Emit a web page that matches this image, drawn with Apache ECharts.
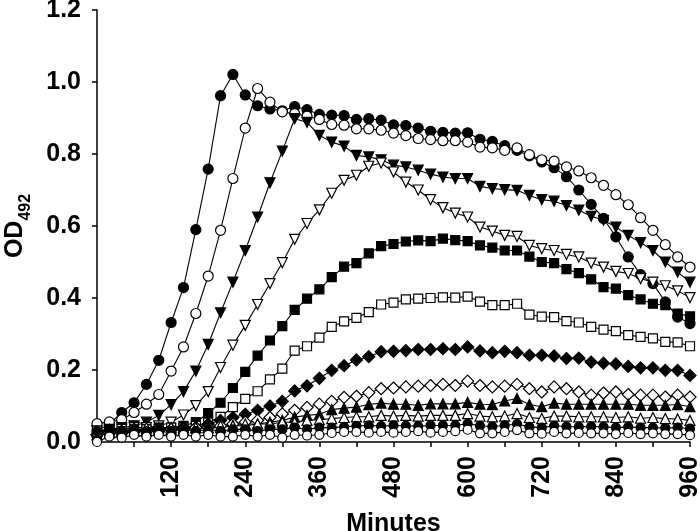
<!DOCTYPE html>
<html><head><meta charset="utf-8">
<script src="https://cdn.jsdelivr.net/npm/echarts@6/dist/echarts.min.js"></script>
<style>html,body{margin:0;padding:0;background:#fff}#c{width:700px;height:531px}</style>
</head><body><div id="c"></div>
<script>
// time points (minutes)
const minutes = [0,20,40,60,80,100,120,140,160,180,200,220,240,260,280,300,320,340,360,380,400,420,440,460,480,500,520,540,560,580,600,620,640,660,680,700,720,740,760,780,800,820,840,860,880,900,920,940,960];
const xTicks = [120,240,360,480,600,720,840,960];
const yTicks = [0.0,0.2,0.4,0.6,0.8,1.0,1.2];

const s1 = [0.03,0.05,0.082,0.109,0.16,0.227,0.332,0.429,0.59,0.758,0.962,1.021,0.964,0.934,0.925,0.92,0.932,0.923,0.91,0.908,0.907,0.896,0.898,0.894,0.881,0.879,0.872,0.863,0.86,0.858,0.859,0.841,0.835,0.823,0.81,0.795,0.778,0.762,0.737,0.7,0.66,0.621,0.57,0.514,0.465,0.44,0.389,0.347,0.329];
const s2 = [0.051,0.056,0.062,0.082,0.105,0.132,0.197,0.264,0.357,0.461,0.588,0.732,0.872,0.982,0.944,0.917,0.912,0.905,0.896,0.882,0.88,0.87,0.87,0.866,0.858,0.851,0.843,0.84,0.837,0.837,0.833,0.819,0.817,0.81,0.817,0.798,0.784,0.78,0.764,0.753,0.734,0.713,0.687,0.659,0.623,0.588,0.548,0.514,0.486];
const s3 = [0.03,0.035,0.04,0.045,0.055,0.074,0.104,0.14,0.197,0.271,0.359,0.444,0.532,0.625,0.72,0.808,0.898,0.888,0.852,0.833,0.822,0.796,0.792,0.784,0.769,0.764,0.755,0.744,0.736,0.732,0.732,0.71,0.704,0.701,0.699,0.685,0.673,0.669,0.657,0.644,0.627,0.616,0.597,0.574,0.554,0.532,0.5,0.472,0.444];
const s4 = [0.03,0.03,0.035,0.04,0.04,0.045,0.055,0.075,0.101,0.14,0.207,0.269,0.324,0.382,0.44,0.498,0.563,0.607,0.645,0.691,0.727,0.741,0.766,0.775,0.75,0.722,0.7,0.673,0.651,0.636,0.625,0.597,0.586,0.574,0.571,0.546,0.537,0.532,0.521,0.514,0.497,0.486,0.474,0.468,0.454,0.444,0.434,0.42,0.401];
const s5 = [0.025,0.03,0.03,0.035,0.035,0.04,0.04,0.045,0.055,0.08,0.109,0.15,0.195,0.24,0.282,0.322,0.367,0.398,0.424,0.458,0.487,0.497,0.524,0.544,0.55,0.557,0.56,0.558,0.565,0.561,0.558,0.546,0.54,0.532,0.532,0.515,0.5,0.497,0.48,0.469,0.452,0.43,0.426,0.408,0.396,0.384,0.38,0.357,0.349];
const s6 = [0.025,0.03,0.03,0.03,0.035,0.035,0.04,0.04,0.045,0.054,0.07,0.097,0.12,0.141,0.174,0.204,0.254,0.266,0.29,0.32,0.335,0.345,0.361,0.382,0.387,0.396,0.398,0.4,0.402,0.401,0.404,0.39,0.38,0.38,0.384,0.354,0.348,0.347,0.336,0.332,0.32,0.312,0.308,0.297,0.292,0.288,0.278,0.277,0.266];
const s7 = [0.02,0.025,0.025,0.03,0.03,0.035,0.035,0.04,0.04,0.05,0.06,0.068,0.077,0.088,0.1,0.113,0.142,0.156,0.177,0.199,0.212,0.228,0.237,0.251,0.252,0.254,0.257,0.257,0.259,0.257,0.264,0.253,0.248,0.252,0.248,0.241,0.241,0.239,0.232,0.233,0.222,0.219,0.217,0.21,0.206,0.206,0.199,0.199,0.185];
const s8 = [0.02,0.025,0.025,0.03,0.03,0.03,0.035,0.035,0.04,0.04,0.045,0.05,0.055,0.06,0.068,0.078,0.088,0.096,0.105,0.113,0.124,0.127,0.137,0.148,0.15,0.153,0.155,0.157,0.16,0.157,0.169,0.157,0.153,0.155,0.16,0.148,0.139,0.153,0.148,0.139,0.13,0.136,0.139,0.132,0.13,0.13,0.125,0.13,0.125];
const s9 = [0.02,0.025,0.03,0.03,0.03,0.035,0.035,0.035,0.04,0.04,0.04,0.045,0.045,0.05,0.055,0.06,0.069,0.074,0.077,0.09,0.094,0.097,0.104,0.108,0.105,0.105,0.102,0.106,0.106,0.106,0.11,0.105,0.104,0.114,0.121,0.104,0.098,0.108,0.105,0.105,0.105,0.105,0.105,0.105,0.102,0.102,0.102,0.104,0.098];
const s10 = [0.03,0.035,0.035,0.04,0.04,0.04,0.04,0.04,0.04,0.04,0.045,0.045,0.05,0.05,0.05,0.055,0.055,0.06,0.062,0.065,0.068,0.07,0.07,0.074,0.072,0.074,0.072,0.074,0.074,0.074,0.079,0.072,0.07,0.072,0.079,0.068,0.065,0.072,0.072,0.07,0.07,0.07,0.068,0.07,0.066,0.068,0.065,0.064,0.06];
const s11 = [0.03,0.035,0.03,0.035,0.03,0.035,0.03,0.035,0.03,0.035,0.03,0.035,0.035,0.03,0.035,0.035,0.04,0.035,0.04,0.04,0.042,0.045,0.046,0.044,0.046,0.045,0.044,0.046,0.046,0.046,0.051,0.045,0.043,0.046,0.05,0.042,0.04,0.045,0.043,0.042,0.043,0.042,0.04,0.042,0.04,0.04,0.039,0.04,0.037];
const s12 = [0.0,0.015,0.012,0.02,0.015,0.02,0.015,0.02,0.015,0.02,0.015,0.015,0.02,0.015,0.02,0.012,0.02,0.018,0.02,0.025,0.028,0.028,0.026,0.028,0.026,0.028,0.03,0.026,0.028,0.03,0.034,0.024,0.024,0.028,0.033,0.024,0.023,0.028,0.024,0.025,0.024,0.024,0.022,0.025,0.022,0.024,0.022,0.022,0.019];

const seriesDefs = [
  {v:s1, sym:'circle', fill:true, size:10},
  {v:s2, sym:'circle', fill:false, size:10},
  {v:s3, sym:'triangle', fill:true, size:10, rot:180},
  {v:s4, sym:'triangle', fill:false, size:10, rot:180},
  {v:s5, sym:'rect', fill:true, size:9},
  {v:s6, sym:'rect', fill:false, size:9},
  {v:s7, sym:'diamond', fill:true, size:12},
  {v:s8, sym:'diamond', fill:false, size:12},
  {v:s9, sym:'triangle', fill:true, size:10},
  {v:s10, sym:'triangle', fill:false, size:10},
  {v:s11, sym:'circle', fill:true, size:9},
  {v:s12, sym:'circle', fill:false, size:9}
];

const FONT = 'Liberation Sans, Arial, sans-serif';
const chart = echarts.init(document.getElementById('c'), null, {renderer:'canvas'});
chart.setOption({
  animation:false,
  backgroundColor:'#fff',
  grid:{left:97, right:10, top:10, bottom:89, containLabel:false, outerBoundsMode:'none'},
  xAxis:{
    type:'value', min:0, max:960, interval:60,
    name:'Minutes', nameLocation:'middle', nameGap:70,
    nameTextStyle:{fontFamily:FONT, fontWeight:'bold', fontSize:25, color:'#000'},
    axisLine:{lineStyle:{color:'#000', width:1.5}},
    axisTick:{show:true, inside:false, length:5, lineStyle:{color:'#000', width:1.5}},
    splitLine:{show:false},
    axisLabel:{rotate:90, margin:14, fontFamily:FONT, fontWeight:'bold', fontSize:25, color:'#000',
      formatter:function(v){return xTicks.indexOf(v)>=0 ? String(v) : '';}}
  },
  yAxis:{
    type:'value', min:0, max:1.2, interval:0.2,
    name:'{a|OD}{b|492}', nameLocation:'middle', nameGap:69, nameRotate:90,
    nameTextStyle:{rich:{
      a:{fontFamily:FONT, fontWeight:'bold', fontSize:25, color:'#000', lineHeight:30, verticalAlign:'bottom'},
      b:{fontFamily:FONT, fontWeight:'bold', fontSize:16, color:'#000', lineHeight:30, verticalAlign:'bottom', padding:[0,0,-6,0]}
    }},
    axisLine:{show:true, lineStyle:{color:'#000', width:1.5}},
    axisTick:{show:true, inside:false, length:5, lineStyle:{color:'#000', width:1.5}},
    splitLine:{show:false},
    axisLabel:{margin:16, fontFamily:FONT, fontWeight:'bold', fontSize:25, color:'#000',
      formatter:function(v){
        for (const t of yTicks){ if (Math.abs(t-v)<1e-6) return t.toFixed(1); }
        return '';
      }}
  },
  series: seriesDefs.map(function(d){
    return {
      type:'line',
      data: minutes.map(function(m,i){return [m, d.v[i]];}),
      symbol:d.sym, symbolSize:d.size, symbolRotate:d.rot||0,
      showAllSymbol:true,
      lineStyle:{color:'#000', width:1.1},
      itemStyle:{color: d.fill ? '#000' : '#fff', borderColor:'#000', borderWidth:1.2},
      clip:false
    };
  })
});
</script></body></html>
